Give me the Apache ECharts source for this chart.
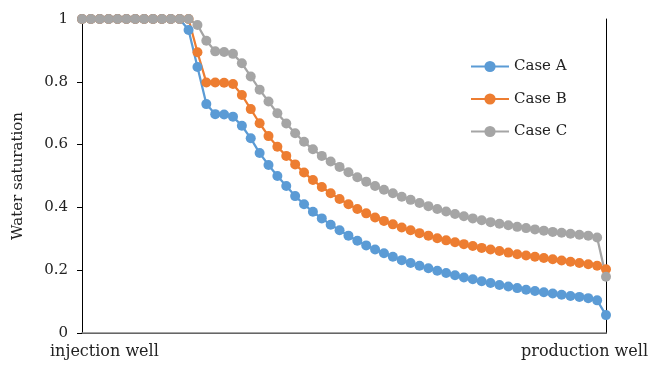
<!DOCTYPE html>
<html>
<head>
<meta charset="utf-8">
<script src="https://cdn.jsdelivr.net/npm/echarts@6/dist/echarts.min.js"></script>
<style>html,body{margin:0;padding:0;background:#fff}#c{width:649px;height:367px}</style>
</head>
<body>
<div id="c"></div>
<script>
var categories = [];
for (var k = 0; k < 60; k++) categories.push(String(k + 1));
var endLabels = ['injection well', 'production well'];
var yTicks = [0, 0.2, 0.4, 0.6, 0.8, 1];
var seriesNames = ['Case A', 'Case B', 'Case C'];
var caseA = [1,1,1,1,1,1,1,1,1,1,1,1,0.965,0.847,0.729,0.697,0.696,0.689,0.660,0.620,0.573,0.535,0.500,0.468,0.436,0.410,0.386,0.365,0.345,0.327,0.310,0.294,0.279,0.266,0.254,0.243,0.232,0.223,0.214,0.206,0.198,0.191,0.184,0.177,0.171,0.165,0.159,0.153,0.148,0.143,0.138,0.134,0.130,0.126,0.122,0.118,0.115,0.111,0.104,0.057];
var caseB = [1,1,1,1,1,1,1,1,1,1,1,1,1,0.894,0.798,0.798,0.797,0.793,0.758,0.713,0.668,0.627,0.593,0.564,0.537,0.511,0.487,0.465,0.445,0.427,0.410,0.395,0.381,0.368,0.357,0.346,0.336,0.327,0.318,0.310,0.302,0.295,0.289,0.283,0.277,0.271,0.266,0.261,0.256,0.251,0.247,0.243,0.239,0.235,0.231,0.227,0.223,0.219,0.214,0.203];
var caseC = [1,1,1,1,1,1,1,1,1,1,1,1,1,0.981,0.931,0.897,0.895,0.889,0.859,0.817,0.775,0.737,0.700,0.667,0.636,0.609,0.585,0.564,0.546,0.529,0.512,0.496,0.482,0.468,0.456,0.445,0.434,0.424,0.414,0.404,0.395,0.387,0.379,0.372,0.365,0.359,0.353,0.348,0.343,0.338,0.334,0.330,0.326,0.322,0.319,0.316,0.313,0.310,0.304,0.179];
var colors = ['#5B9BD5', '#ED7D31', '#A5A5A5'];

var font = '"DejaVu Serif", "Liberation Serif", serif';
var chart = echarts.init(document.getElementById('c'));
function mk(name, data, color) {
  return {
    name: name, type: 'line', data: data,
    symbol: 'circle', symbolSize: 10, showSymbol: true, showAllSymbol: true,
    lineStyle: { color: color, width: 2.25 },
    itemStyle: { color: color },
    animation: false
  };
}
chart.setOption({
  animation: false,
  color: colors,
  grid: { left: 82, right: 43, top: 19, bottom: 34, containLabel: false },
  legend: {
    orient: 'vertical', left: 465, top: 54,
    itemWidth: 38, itemHeight: 14, itemGap: 17.5,
    textStyle: { fontFamily: font, fontSize: 15, color: '#222' },
    data: seriesNames
  },
  xAxis: [{
    type: 'category', data: categories, boundaryGap: false,
    axisLine: { lineStyle: { color: '#000', width: 1 } },
    axisTick: { show: false }, axisLabel: { show: false }, splitLine: { show: false }
  }, {
    type: 'category', data: categories, boundaryGap: false, position: 'top',
    axisLine: { lineStyle: { color: '#888', width: 1.5 } },
    axisTick: { show: false }, axisLabel: { show: false }
  }],
  yAxis: [{
    type: 'value', min: 0, max: 1, interval: 0.2,
    name: 'Water saturation', nameLocation: 'middle', nameGap: 56,
    nameTextStyle: { fontFamily: font, fontSize: 15, color: '#222' },
    axisLine: { show: true, lineStyle: { color: '#000', width: 1 } },
    axisTick: { show: true, inside: false, length: 5, lineStyle: { color: '#000' } },
    axisLabel: { margin: 14, fontFamily: font, fontSize: 15, color: '#222',
      formatter: function (v) { return String(Math.round(v * 10) / 10); } },
    splitLine: { show: false }
  }, {
    type: 'value', min: 0, max: 1, position: 'right',
    axisLine: { show: true, lineStyle: { color: '#000', width: 1 } },
    axisTick: { show: false }, axisLabel: { show: false }, splitLine: { show: false }
  }],
  graphic: [
    { type: 'text', left: 50, top: 344, style: { text: endLabels[0], font: '16px ' + font, fill: '#222' } },
    { type: 'text', right: 1, top: 344, style: { text: endLabels[1], font: '16px ' + font, fill: '#222' } }
  ],
  series: [mk(seriesNames[0], caseA, colors[0]), mk(seriesNames[1], caseB, colors[1]), mk(seriesNames[2], caseC, colors[2])]
});
</script>
</body>
</html>
